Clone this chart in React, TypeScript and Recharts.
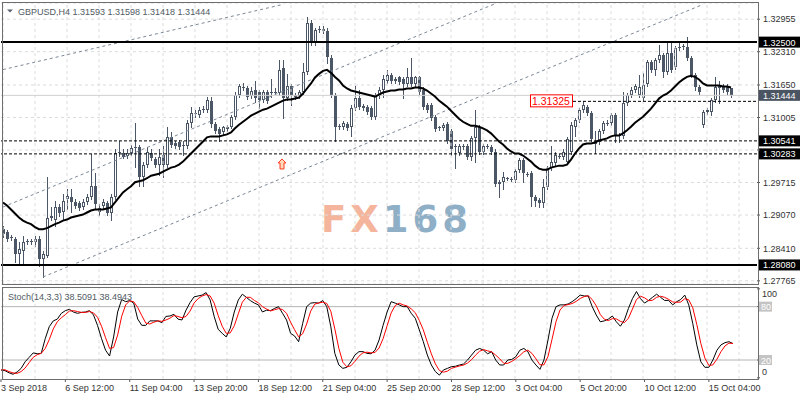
import React from 'react';
import {
  ComposedChart,
  Bar,
  Line,
  XAxis,
  YAxis,
  CartesianGrid,
  ReferenceLine,
  ReferenceDot,
} from 'recharts';

// ── GBPUSD H4 candles ─────────────────────────────────────────────────────────

const opens = [
  1.2879, 1.2873, 1.2863, 1.2859, 1.2829, 1.2835, 1.2853, 1.2855, 1.2853, 1.2859,
  1.2819, 1.2825, 1.2902, 1.2898, 1.2922, 1.2914, 1.2938, 1.2942, 1.2932, 1.2930,
  1.2922, 1.2932, 1.2942, 1.2964, 1.2914, 1.2924, 1.2930, 1.2912, 1.2942, 1.3031,
  1.3031, 1.3025, 1.3031, 1.3039, 1.3041, 1.2983, 1.3007, 1.3031, 1.3019, 1.3007,
  1.3027, 1.3007, 1.3061, 1.3049, 1.3051, 1.3045, 1.3043, 1.3090, 1.3108, 1.3106,
  1.3116, 1.3116, 1.3134, 1.3087, 1.3077, 1.3071, 1.3077, 1.3082, 1.3102, 1.3146,
  1.3160, 1.3158, 1.3144, 1.3156, 1.3152, 1.3136, 1.3152, 1.3150, 1.3152, 1.3150,
  1.3199, 1.3140, 1.3162, 1.3146, 1.3144, 1.3152, 1.3191, 1.3288, 1.3249, 1.3275,
  1.3277, 1.3273, 1.3219, 1.3146, 1.3084, 1.3081, 1.3088, 1.3081, 1.3120, 1.3140,
  1.3124, 1.3122, 1.3120, 1.3102, 1.3144, 1.3156, 1.3172, 1.3185, 1.3176, 1.3180,
  1.3176, 1.3166, 1.3180, 1.3166, 1.3180, 1.3156, 1.3126, 1.3126, 1.3102, 1.3081,
  1.3079, 1.3088, 1.3073, 1.3043, 1.3031, 1.3043, 1.3043, 1.3023, 1.3059, 1.3082,
  1.3033, 1.3043, 1.3041, 1.3033, 1.2972, 1.2972, 1.2980, 1.2978, 1.2976, 1.2997,
  1.3017, 1.2989, 1.2991, 1.2942, 1.2936, 1.2930, 1.2962, 1.3001, 1.3011, 1.3025,
  1.3023, 1.3013, 1.3033, 1.3082, 1.3096, 1.3116, 1.3122, 1.3110, 1.3053, 1.3051,
  1.3073, 1.3090, 1.3090, 1.3106, 1.3065, 1.3063, 1.3130, 1.3146, 1.3156, 1.3146,
  1.3140, 1.3166, 1.3211, 1.3195, 1.3215, 1.3225, 1.3191, 1.3229, 1.3201, 1.3239,
  1.3243, 1.3241, 1.3219, 1.3185, 1.3160, 1.3086, 1.3112, 1.3112, 1.3136, 1.3162,
  1.3162, 1.3162, 1.31593,
];

const highs = [
  1.2885, 1.2877, 1.2867, 1.2863, 1.2853, 1.2865, 1.2859, 1.2859, 1.2865, 1.2865,
  1.2835, 1.2982, 1.2922, 1.2934, 1.2928, 1.2948, 1.2958, 1.2958, 1.2938, 1.2934,
  1.2938, 1.2948, 1.3029, 1.2991, 1.2928, 1.2938, 1.2934, 1.2948, 1.3037, 1.3053,
  1.3037, 1.3037, 1.3045, 1.3090, 1.3045, 1.3013, 1.3041, 1.3037, 1.3023, 1.3037,
  1.3043, 1.3082, 1.3071, 1.3053, 1.3055, 1.3053, 1.3096, 1.3122, 1.3116, 1.3122,
  1.3124, 1.3142, 1.3142, 1.3092, 1.3081, 1.3084, 1.3086, 1.3106, 1.3152, 1.3166,
  1.3168, 1.3162, 1.3160, 1.3172, 1.3156, 1.3156, 1.3156, 1.3176, 1.3158, 1.3215,
  1.3215, 1.3186, 1.3166, 1.3150, 1.3156, 1.3209, 1.3300, 1.3294, 1.3279, 1.3282,
  1.3281, 1.3279, 1.3225, 1.3150, 1.3088, 1.3094, 1.3092, 1.3126, 1.3162, 1.3156,
  1.3128, 1.3126, 1.3124, 1.3150, 1.3160, 1.3185, 1.3195, 1.3189, 1.3180, 1.3183,
  1.3180, 1.3199, 1.3219, 1.3183, 1.3183, 1.3160, 1.3130, 1.3130, 1.3106, 1.3084,
  1.3090, 1.3092, 1.3077, 1.3047, 1.3047, 1.3047, 1.3047, 1.3063, 1.3116, 1.3086,
  1.3047, 1.3047, 1.3045, 1.3037, 1.2976, 1.2993, 1.2983, 1.2982, 1.2999, 1.3021,
  1.3021, 1.2993, 1.2995, 1.2946, 1.2940, 1.2978, 1.3005, 1.3043, 1.3033, 1.3029,
  1.3037, 1.3061, 1.3092, 1.3100, 1.3120, 1.3134, 1.3126, 1.3114, 1.3073, 1.3077,
  1.3094, 1.3096, 1.3110, 1.3110, 1.3069, 1.3152, 1.3150, 1.3160, 1.3166, 1.3185,
  1.3189, 1.3215, 1.3215, 1.3219, 1.3245, 1.3229, 1.3251, 1.3251, 1.3243, 1.3249,
  1.3247, 1.3261, 1.3223, 1.3189, 1.3164, 1.3116, 1.3120, 1.3140, 1.3181, 1.3172,
  1.3166, 1.3166, 1.31598,
];

const lows = [
  1.2863, 1.2855, 1.2857, 1.2813, 1.2809, 1.2809, 1.2849, 1.2849, 1.2845, 1.2805,
  1.2784, 1.2823, 1.2898, 1.2885, 1.2906, 1.2898, 1.2918, 1.2914, 1.2920, 1.2916,
  1.2918, 1.2928, 1.2938, 1.2918, 1.2908, 1.2920, 1.2908, 1.2898, 1.2938, 1.3025,
  1.3021, 1.3021, 1.3027, 1.3003, 1.2964, 1.2964, 1.3003, 1.3017, 1.3003, 1.2987,
  1.2982, 1.3003, 1.3041, 1.3039, 1.3037, 1.3027, 1.3039, 1.3082, 1.3102, 1.3102,
  1.3112, 1.3112, 1.3082, 1.3069, 1.3053, 1.3067, 1.3073, 1.3079, 1.3098, 1.3142,
  1.3156, 1.3138, 1.3140, 1.3132, 1.3120, 1.3132, 1.3130, 1.3142, 1.3148, 1.3146,
  1.3100, 1.3136, 1.3126, 1.3138, 1.3140, 1.3148, 1.3187, 1.3245, 1.3245, 1.3271,
  1.3269, 1.3209, 1.3142, 1.3053, 1.3077, 1.3077, 1.3075, 1.3063, 1.3116, 1.3118,
  1.3116, 1.3108, 1.3098, 1.3098, 1.3140, 1.3142, 1.3168, 1.3168, 1.3168, 1.3166,
  1.3140, 1.3162, 1.3162, 1.3162, 1.3148, 1.3118, 1.3112, 1.3096, 1.3073, 1.3075,
  1.3075, 1.3049, 1.3027, 1.3001, 1.3027, 1.3037, 1.3019, 1.3017, 1.3013, 1.3029,
  1.3029, 1.3039, 1.3029, 1.2964, 1.2942, 1.2958, 1.2976, 1.2974, 1.2972, 1.2993,
  1.2972, 1.2985, 1.2924, 1.2924, 1.2922, 1.2922, 1.2958, 1.2997, 1.3007, 1.3021,
  1.3019, 1.3009, 1.3029, 1.3063, 1.3092, 1.3112, 1.3106, 1.3053, 1.3031, 1.3047,
  1.3069, 1.3086, 1.3086, 1.3051, 1.3051, 1.3059, 1.3126, 1.3142, 1.3152, 1.3142,
  1.3136, 1.3162, 1.3191, 1.3185, 1.3211, 1.3181, 1.3187, 1.3191, 1.3197, 1.3235,
  1.3237, 1.3215, 1.3181, 1.3156, 1.3148, 1.3082, 1.3108, 1.3106, 1.3132, 1.3130,
  1.3152, 1.3148, 1.31418,
];

const closes = [
  1.2869, 1.2859, 1.2861, 1.2829, 1.2839, 1.2853, 1.2855, 1.2853, 1.2859, 1.2819,
  1.2829, 1.2902, 1.2906, 1.2922, 1.2912, 1.2934, 1.2944, 1.2932, 1.2924, 1.2920,
  1.2932, 1.2942, 1.2964, 1.2928, 1.2920, 1.2932, 1.2912, 1.2942, 1.3031, 1.3033,
  1.3023, 1.3031, 1.3039, 1.3041, 1.2983, 1.3007, 1.3033, 1.3021, 1.3007, 1.3023,
  1.3007, 1.3061, 1.3045, 1.3043, 1.3041, 1.3043, 1.3090, 1.3110, 1.3109, 1.3116,
  1.3118, 1.3136, 1.3087, 1.3073, 1.3067, 1.3081, 1.3082, 1.3102, 1.3146, 1.3162,
  1.3159, 1.3142, 1.3154, 1.3140, 1.3136, 1.3152, 1.3134, 1.3151, 1.3151, 1.3195,
  1.3140, 1.3162, 1.3146, 1.3142, 1.3152, 1.3191, 1.3288, 1.3249, 1.3275, 1.3277,
  1.3273, 1.3221, 1.3146, 1.3082, 1.3081, 1.3090, 1.3079, 1.3120, 1.3140, 1.3122,
  1.3120, 1.3112, 1.3102, 1.3146, 1.3156, 1.3176, 1.3185, 1.3172, 1.3173, 1.3170,
  1.3166, 1.3180, 1.3166, 1.3180, 1.3152, 1.3122, 1.3116, 1.3100, 1.3077, 1.3079,
  1.3086, 1.3053, 1.3037, 1.3041, 1.3043, 1.3042, 1.3023, 1.3059, 1.3081, 1.3033,
  1.3043, 1.3042, 1.3033, 1.2968, 1.2968, 1.2982, 1.2979, 1.2977, 1.2995, 1.3017,
  1.2991, 1.2988, 1.2942, 1.2934, 1.2930, 1.2962, 1.3001, 1.3013, 1.3027, 1.3024,
  1.3033, 1.3057, 1.3086, 1.3096, 1.3116, 1.3126, 1.3110, 1.3057, 1.3047, 1.3073,
  1.3090, 1.3089, 1.3106, 1.3063, 1.3064, 1.3130, 1.3146, 1.3156, 1.3162, 1.3160,
  1.3164, 1.3211, 1.3195, 1.3215, 1.3225, 1.3191, 1.3229, 1.3195, 1.3239, 1.3241,
  1.3242, 1.3219, 1.3185, 1.3160, 1.3152, 1.3112, 1.3116, 1.3136, 1.3160, 1.3159,
  1.3156, 1.3152, 1.31444,
];

// moving average (thick black line)
const ma = [
  1.2932, 1.2926, 1.2918, 1.2910, 1.2902, 1.2896, 1.2892, 1.2889, 1.2883, 1.2879,
  1.2879, 1.2881, 1.2885, 1.2889, 1.2892, 1.2896, 1.2898, 1.2902, 1.2904, 1.2906,
  1.2908, 1.2912, 1.2916, 1.2918, 1.2918, 1.2918, 1.2920, 1.2922, 1.2932, 1.2942,
  1.2952, 1.2958, 1.2964, 1.2972, 1.2974, 1.2976, 1.2980, 1.2985, 1.2987, 1.2989,
  1.2993, 1.2997, 1.3001, 1.3003, 1.3007, 1.3013, 1.3021, 1.3029, 1.3037, 1.3045,
  1.3053, 1.3061, 1.3063, 1.3063, 1.3063, 1.3065, 1.3067, 1.3071, 1.3079, 1.3086,
  1.3092, 1.3098, 1.3104, 1.3108, 1.3112, 1.3116, 1.3118, 1.3122, 1.3126, 1.3130,
  1.3134, 1.3136, 1.3136, 1.3138, 1.3140, 1.3148, 1.3158, 1.3168, 1.3180, 1.3187,
  1.3193, 1.3195, 1.3189, 1.3181, 1.3174, 1.3164, 1.3158, 1.3154, 1.3152, 1.3150,
  1.3148, 1.3146, 1.3144, 1.3142, 1.3146, 1.3150, 1.3152, 1.3154, 1.3154, 1.3156,
  1.3156, 1.3158, 1.3158, 1.3160, 1.3160, 1.3158, 1.3154, 1.3148, 1.3142, 1.3134,
  1.3128, 1.3122, 1.3114, 1.3106, 1.3098, 1.3092, 1.3088, 1.3084, 1.3084, 1.3082,
  1.3079, 1.3075, 1.3069, 1.3061, 1.3053, 1.3047, 1.3039, 1.3033, 1.3029, 1.3029,
  1.3025, 1.3019, 1.3013, 1.3005, 1.2999, 1.2997, 1.2997, 1.3001, 1.3003, 1.3005,
  1.3005, 1.3007, 1.3017, 1.3029, 1.3039, 1.3047, 1.3049, 1.3049, 1.3051, 1.3055,
  1.3057, 1.3059, 1.3063, 1.3065, 1.3065, 1.3069, 1.3075, 1.3082, 1.3090, 1.3096,
  1.3102, 1.3110, 1.3118, 1.3128, 1.3138, 1.3144, 1.3148, 1.3154, 1.3162, 1.3170,
  1.3176, 1.3181, 1.3183, 1.3181, 1.3176, 1.3168, 1.3164, 1.3164, 1.3164, 1.3164,
  1.3162, 1.3162, 1.3160,
];

// Stoch(14,3,3): main (black) and signal (red)
const stochK = [
  8.8, 8, 5.6, 4, 6.5, 10.6, 18, 23, 28, 27,
  27.5, 44, 57.5, 64, 66, 72.5, 75.5, 77, 74, 72.5,
  73.6, 74, 75.5, 70.6, 59, 44, 31, 24.5, 46, 74,
  88, 85.6, 86.8, 84, 66, 59, 59, 64, 64, 64,
  62, 69, 69.5, 71.4, 66, 65, 76, 84.5, 91, 92,
  93, 95.8, 87.5, 69, 54.5, 50, 46, 55.6, 74, 87.5,
  94, 90.5, 86.8, 84, 82, 74, 76, 75.5, 78, 80,
  72.5, 65, 50, 47, 40.6, 61, 80, 84, 84.5, 84,
  86.8, 80, 57.5, 27.5, 14.4, 10.6, 11.8, 18, 25.6, 29.4,
  29.4, 27.5, 27, 31, 42.5, 59, 74, 85.6, 84, 82,
  80, 80, 72.5, 67, 54, 40.6, 25.6, 14.4, 7, 3,
  8.8, 10.6, 12.5, 13, 14.4, 15.5, 20, 25.6, 31, 33,
  31, 27, 29.4, 20, 14.4, 14.4, 20, 20.7, 23.7, 31,
  33, 29.4, 20, 14.4, 9.5, 20, 42.5, 67, 80, 82,
  82, 83, 85.6, 89, 93, 92, 92, 80, 70.6, 63,
  64, 66, 69.5, 63, 58, 65, 78, 89, 97, 89,
  84, 87, 90.5, 94, 90.5, 87, 87, 82, 85.6, 88,
  93, 82, 61, 37, 18, 11.8, 11.8, 20, 31, 37,
  39.5, 40.6, 38.5,
];

const stochD = [
  9, 9, 7, 5.5, 5, 7, 11, 17, 23, 26,
  27.5, 33, 43, 55, 63, 67.5, 71, 75, 75.5, 74.5,
  73.5, 73.5, 74.5, 73, 68, 58, 45, 33, 34, 48,
  69, 82, 86.5, 85.5, 79, 70, 61.5, 60.5, 62.5, 64,
  63.5, 65, 67, 70, 69, 67.5, 69, 75, 84, 89,
  92, 93.6, 92, 84, 70, 58, 50, 50.5, 58.5, 72,
  85, 90.5, 90.5, 87, 84.3, 80, 77.4, 75.2, 76.5, 77.8,
  76.8, 72.5, 62.5, 54, 46, 49.5, 60.5, 75, 82.8, 84.2,
  85, 83.6, 74.8, 55, 33, 17.5, 12.3, 13.5, 18.5, 24.3,
  28.1, 28.8, 28, 28.5, 33.5, 44, 58.5, 72.9, 81.2, 83.9,
  82, 80.7, 77.5, 73.2, 64.5, 53.9, 40, 26.9, 15.7, 8.1,
  6.3, 7.5, 10.6, 12, 13.3, 14.3, 16.6, 20.4, 25.5, 29.9,
  31.7, 30.3, 29.1, 25.5, 21.3, 16.3, 16.3, 18.4, 21.5, 25.1,
  29.2, 31.1, 27.5, 21.3, 14.6, 14.6, 24, 43.2, 63.2, 76.3,
  81.3, 82.3, 83.5, 85.9, 89.2, 91.3, 92.3, 88, 80.9, 71.2,
  65.9, 64.3, 66.5, 66.2, 63.5, 62, 67, 77.3, 88, 91.7,
  90, 86.7, 87.2, 90.5, 91.7, 90.5, 88.2, 85.3, 84.9, 85.2,
  88.9, 87.7, 78.7, 60, 38.7, 22.3, 13.9, 14.5, 20.9, 29.3,
  35.8, 39, 38.5,
];

const priceTicks = [1.27765, 1.2841, 1.2907, 1.29715, 1.3036, 1.31005, 1.3165, 1.3231, 1.32955];
const dateLabels = [
  '3 Sep 2018', '6 Sep 12:00', '11 Sep 04:00', '13 Sep 20:00', '18 Sep 12:00', '21 Sep 04:00',
  '25 Sep 20:00', '28 Sep 12:00', '3 Oct 04:00', '5 Oct 20:00', '10 Oct 12:00', '15 Oct 04:00',
];
const stochTicks = [0, 20, 80, 100];

// horizontal levels drawn on the chart
const resistance = 1.325;
const support = 1.2808;
const dashedLevels = [1.30541, 1.30283];
const bid = 1.31444;
const swingLevel = 1.31325;

// ── Look ──────────────────────────────────────────────────────────────────────

const FONT = '"Liberation Sans", Arial, sans-serif';
const CANDLE = '#4b5767';
const GRID = '#dcdcdc';
const CHANNEL = '#7b8896';
const TEXT = '#333333';

const rows = opens.map((o, i) => ({
  i,
  open: o,
  high: highs[i],
  low: lows[i],
  close: closes[i],
  ma: ma[i],
  k: stochK[i],
  d: stochD[i],
}));

// every 8th bar gets a dashed vertical grid line
const gridBars = Array.from({ length: 24 }, (_, k) => k * 8);

// ── Shapes ────────────────────────────────────────────────────────────────────

function Candle(props: any) {
  const { x, y, width, height, payload } = props;
  if (x == null || !payload) return null;
  const { open, close, high, low } = payload;
  const top = Math.min(y, y + height);
  const span = Math.abs(height);
  const pos = (v: number) => top + (high === low ? 0 : ((high - v) / (high - low)) * span);
  const cx = Math.floor(x + width / 2) + 0.5;
  const yHigh = Math.round(pos(high));
  const yLow = Math.round(pos(low));
  const bTop = Math.round(pos(Math.max(open, close)));
  const bBot = Math.round(pos(Math.min(open, close)));
  const bull = close > open;
  return (
    <g shapeRendering="crispEdges">
      <line x1={cx} x2={cx} y1={yHigh} y2={yLow + 1} stroke={CANDLE} strokeWidth={1} />
      {bull && bBot - bTop >= 2 ? (
        <rect x={cx - 1} y={bTop + 0.5} width={2} height={bBot - bTop - 1} fill="#fff" stroke={CANDLE} strokeWidth={1} />
      ) : (
        <rect x={cx - 1.5} y={bTop} width={3} height={Math.max(bBot - bTop, 1)} fill={CANDLE} />
      )}
    </g>
  );
}

function AxisTag({ viewBox, text, bg }: any) {
  if (!viewBox) return null;
  const right = viewBox.x + viewBox.width;
  const cy = viewBox.y;
  return (
    <g>
      <rect x={right + 2} y={cy - 5.5} width={41} height={11} fill={bg} />
      <text x={right + 6} y={cy + 3.5} fill="#fff" fontSize={9} fontFamily={FONT}>
        {text}
      </text>
    </g>
  );
}

function SwingTag({ viewBox }: any) {
  if (!viewBox) return null;
  const x = viewBox.x;
  const cy = viewBox.y;
  return (
    <g>
      <rect x={x - 42.5} y={cy - 6.5} width={42} height={12} fill="#fff" stroke="#ff0000" strokeWidth={1} />
      <text x={x - 41} y={cy + 4} fill="#ff0000" fontSize={10.5} fontFamily={FONT}>
        {swingLevel.toFixed(5)}
      </text>
    </g>
  );
}

function UpArrow({ cx, cy }: any) {
  if (cx == null) return null;
  const d = `M${cx},${cy - 5} L${cx + 4},${cy - 1} L${cx + 2},${cy - 1} L${cx + 2},${cy + 5} L${cx - 2},${cy + 5} L${cx - 2},${cy - 1} L${cx - 4},${cy - 1} Z`;
  return <path d={d} fill="#ffd9b8" stroke="#ff3b1f" strokeWidth={1} />;
}

function StochTick({ x, y, payload }: any) {
  const v = payload.value;
  if (v === 20 || v === 80) {
    return (
      <g>
        <rect x={x - 3} y={y - 5} width={13} height={10} fill="#c4c4c4" />
        <text x={x - 1} y={y + 3.5} fill="#fff" fontSize={9} fontFamily={FONT}>
          {v}
        </text>
      </g>
    );
  }
  const shift = v === 100 ? 5 : -6;
  return (
    <text x={x} y={y + shift + 3.5} fill={TEXT} fontSize={9} fontFamily={FONT}>
      {v}
    </text>
  );
}

function DateTick({ x, y, payload }: any) {
  const label = dateLabels[Math.round(payload.value / 16)];
  return (
    <text x={x} y={y + 7} fill={TEXT} fontSize={9} fontFamily={FONT} textAnchor="start">
      {label}
    </text>
  );
}

// ── Component ─────────────────────────────────────────────────────────────────

export default function App() {
  return (
    <div
      style={{
        position: 'fixed',
        left: 0,
        top: 0,
        width: 800,
        height: 400,
        background: '#fff',
        overflow: 'hidden',
        fontFamily: FONT,
      }}
    >
      {/* watermark */}
      <svg width={800} height={400} style={{ position: 'absolute', left: 0, top: 0 }}>
        <text x={321} y={232} fontSize={37} fontWeight="bold" fontFamily='"DejaVu Sans", sans-serif' letterSpacing={4}>
          <tspan fill="#f5b59c">FX</tspan>
          <tspan fill="#8fafc7">168</tspan>
        </text>
      </svg>

      <div style={{ position: 'absolute', left: 0, top: 0 }}>
        <ComposedChart
          width={800}
          height={286}
          data={rows}
          barCategoryGap={0}
          margin={{ top: 3, right: 0, left: 1, bottom: 2 }}
        >
          <CartesianGrid stroke={GRID} strokeDasharray="3 3" vertical={false} />
          <XAxis dataKey="i" hide padding={{ left: 0, right: 24 }} />
          <XAxis xAxisId="n" dataKey="i" type="number" domain={[-0.5, 188.5]} allowDataOverflow hide />
          <YAxis
            orientation="right"
            type="number"
            width={43}
            domain={[1.27702, 1.33276]}
            allowDataOverflow
            ticks={priceTicks}
            interval={0}
            tickFormatter={(v: number) => (v === 1.3036 ? '' : v.toFixed(5))}
            axisLine={false}
            tickSize={3}
            tickMargin={3}
            tickLine={{ stroke: '#555' }}
            tick={{ fill: TEXT, fontSize: 9, fontFamily: FONT }}
          />

          {gridBars.map((b) => (
            <ReferenceLine key={b} xAxisId="n" x={b} stroke={GRID} strokeDasharray="3 3" />
          ))}

          {/* parallel channel */}
          <ReferenceLine xAxisId="n" segment={[{ x: 0, y: 1.31955 }, { x: 70, y: 1.33248 }]} stroke={CHANNEL} strokeDasharray="3 3" />
          <ReferenceLine xAxisId="n" segment={[{ x: 0, y: 1.29229 }, { x: 123, y: 1.33261 }]} stroke={CHANNEL} strokeDasharray="3 3" />
          <ReferenceLine xAxisId="n" segment={[{ x: 10, y: 1.27841 }, { x: 175, y: 1.33248 }]} stroke={CHANNEL} strokeDasharray="3 3" />

          <ReferenceLine y={bid} stroke="#cfcfcf" label={<AxisTag text={bid.toFixed(5)} bg="#4a5462" />} />

          <Bar
            dataKey={(d: any) => [d.low, d.high]}
            shape={(p: any) => <Candle {...p} />}
            isAnimationActive={false}
          />
          <Line dataKey="ma" stroke="#000" strokeWidth={2} dot={false} isAnimationActive={false} />

          <ReferenceLine y={resistance} stroke="#000" strokeWidth={2} label={<AxisTag text={resistance.toFixed(5)} bg="#000" />} />
          <ReferenceLine y={support} stroke="#000" strokeWidth={2} label={<AxisTag text={support.toFixed(5)} bg="#000" />} />
          {dashedLevels.map((lv) => (
            <ReferenceLine key={lv} y={lv} stroke="#000" strokeDasharray="3 2" label={<AxisTag text={lv.toFixed(5)} bg="#000" />} />
          ))}
          <ReferenceLine
            xAxisId="n"
            segment={[{ x: 142.5, y: swingLevel }, { x: 188.5, y: swingLevel }]}
            stroke="#000"
            strokeDasharray="3 2"
            label={<SwingTag />}
          />
          <ReferenceDot xAxisId="n" x={69.75} y={1.30083} r={0} shape={(p: any) => <UpArrow {...p} />} />
        </ComposedChart>
      </div>

      <div style={{ position: 'absolute', left: 0, top: 286 }}>
        <ComposedChart width={800} height={114} data={rows} margin={{ top: 1, right: 0, left: 1, bottom: 0 }}>
          <XAxis
            dataKey="i"
            height={21}
            padding={{ left: 0, right: 24 }}
            interval={15}
            axisLine={false}
            tickSize={3}
            tickMargin={2}
            tickLine={{ stroke: '#555' }}
            tick={<DateTick />}
          />
          <XAxis xAxisId="n" dataKey="i" type="number" domain={[-0.5, 188.5]} allowDataOverflow hide />
          <YAxis
            orientation="right"
            type="number"
            width={43}
            domain={[-1.35, 102.1]}
            allowDataOverflow
            ticks={stochTicks}
            interval={0}
            axisLine={false}
            tickSize={3}
            tickMargin={2}
            tickLine={{ stroke: '#555' }}
            tick={<StochTick />}
          />
          {gridBars.map((b) => (
            <ReferenceLine key={b} xAxisId="n" x={b} stroke={GRID} strokeDasharray="3 3" />
          ))}
          <ReferenceLine y={80} stroke="#b4b4b4" />
          <ReferenceLine y={20} stroke="#b4b4b4" />
          <Line dataKey="k" stroke="#000" strokeWidth={1} dot={false} isAnimationActive={false} />
          <Line dataKey="d" stroke="#ff0000" strokeWidth={1} dot={false} isAnimationActive={false} />
        </ComposedChart>
      </div>

      {/* panel frames */}
      <div style={{ position: 'absolute', left: 2, top: 2, width: 755, height: 281, border: '1px solid #6d6d6d', pointerEvents: 'none' }} />
      <div style={{ position: 'absolute', left: 2, top: 287, width: 755, height: 91, border: '1px solid #6d6d6d', pointerEvents: 'none' }} />

      {/* headers */}
      <svg width={800} height={400} style={{ position: 'absolute', left: 0, top: 0, pointerEvents: 'none' }}>
        <polygon points="7,9.5 13,9.5 10,12.5" fill="#5a6470" />
        <text x={18} y={14.5} fontSize={9} fill="#505a64" fontFamily={FONT}>
          {'GBPUSD,H4  1.31593 1.31598 1.31418 1.31444'}
        </text>
        <text x={8} y={299.5} fontSize={9} fill="#505a64" fontFamily={FONT}>
          {'Stoch(14,3,3) 38.5091 38.4943'}
        </text>
      </svg>
    </div>
  );
}
